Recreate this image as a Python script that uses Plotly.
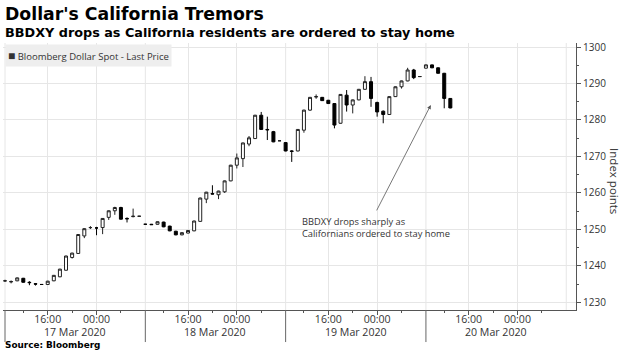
import plotly.graph_objects as go

# ---- data (hourly candles, BBDXY) ----
open_ = [1235.9, 1235.6, 1235.9, 1236.6, 1235.5, 1235.1, 1234.9, 1234.9, 1235.9, 1237.0,
         1238.8, 1242.3, 1243.4, 1248.2, 1250.5, 1250.4, 1250.5, 1253.3, 1255.1, 1256.0,
         1253.0, 1253.5, 1253.6, 1251.4, 1251.4, 1251.4, 1252.0, 1250.9, 1249.5, 1248.5,
         1249.0, 1249.6, 1252.2, 1258.3, 1259.8, 1259.5, 1260.3, 1263.3, 1267.6, 1269.4,
         1273.4, 1274.9, 1281.3, 1277.4, 1276.8, 1274.3, 1273.8, 1271.5, 1271.5, 1277.2,
         1282.7, 1286.3, 1286.2, 1285.4, 1284.5, 1279.1, 1286.8, 1284.1, 1285.5, 1288.4,
         1290.5, 1284.8, 1282.4, 1281.5, 1286.4, 1289.1, 1290.7, 1293.7, 1291.9, 1294.2,
         1295.1, 1294.3, 1292.8, 1285.9]
high = [1236.2, 1236.0, 1236.8, 1236.7, 1235.8, 1235.3, 1235.0, 1235.9, 1237.5, 1239.2,
        1242.8, 1243.6, 1248.7, 1250.3, 1250.9, 1250.7, 1253.1, 1255.2, 1256.2, 1256.2,
        1253.3, 1255.7, 1253.7, 1251.5, 1251.5, 1252.2, 1252.1, 1251.0, 1249.6, 1249.2,
        1249.8, 1252.4, 1258.7, 1260.3, 1262.1, 1260.6, 1263.4, 1267.7, 1270.8, 1273.8,
        1275.6, 1281.4, 1282.2, 1280.9, 1277.0, 1274.4, 1273.9, 1271.7, 1277.5, 1282.8,
        1286.3, 1287.0, 1286.3, 1285.5, 1284.6, 1287.1, 1288.2, 1285.6, 1288.5, 1292.0,
        1291.8, 1285.0, 1282.6, 1286.5, 1289.2, 1290.8, 1294.3, 1294.0, 1292.0, 1295.2,
        1295.2, 1294.4, 1292.9, 1286.0]
low = [1235.6, 1235.2, 1235.8, 1235.4, 1234.7, 1234.6, 1234.8, 1234.8, 1235.8, 1236.9,
       1238.7, 1242.0, 1243.3, 1247.6, 1250.1, 1248.4, 1248.7, 1252.6, 1254.0, 1252.7,
       1251.9, 1253.3, 1253.5, 1251.3, 1251.2, 1251.3, 1250.6, 1249.5, 1248.4, 1248.4,
       1248.9, 1249.5, 1252.1, 1257.2, 1259.6, 1258.3, 1260.0, 1263.2, 1266.7, 1267.1,
       1272.8, 1274.8, 1277.3, 1274.5, 1273.9, 1274.2, 1271.4, 1268.5, 1271.4, 1276.5,
       1282.5, 1285.8, 1285.2, 1284.4, 1277.7, 1279.0, 1282.3, 1281.8, 1285.4, 1288.3,
       1283.6, 1280.9, 1279.1, 1281.4, 1286.3, 1288.6, 1290.6, 1291.2, 1291.8, 1294.1,
       1294.2, 1292.7, 1283.2, 1283.2]
close = [1235.9, 1235.7, 1236.7, 1235.5, 1235.4, 1235.0, 1234.9, 1235.8, 1237.4, 1239.1,
         1242.7, 1243.5, 1248.6, 1250.2, 1250.5, 1250.4, 1253.0, 1255.1, 1256.0, 1252.8,
         1252.9, 1253.6, 1253.6, 1251.4, 1251.3, 1252.1, 1250.7, 1249.6, 1248.5, 1249.1,
         1249.7, 1252.3, 1258.6, 1260.2, 1259.7, 1260.5, 1263.3, 1267.6, 1269.6, 1273.7,
         1275.1, 1281.3, 1277.4, 1277.3, 1274.0, 1274.3, 1271.5, 1271.4, 1277.4, 1282.7,
         1286.2, 1286.4, 1285.3, 1284.5, 1278.6, 1287.0, 1284.1, 1285.5, 1288.4, 1290.5,
         1285.9, 1282.2, 1281.5, 1286.4, 1289.1, 1290.7, 1293.7, 1291.6, 1291.9, 1295.1,
         1294.3, 1292.8, 1285.9, 1283.3]
hours = list(range(len(open_)))          # hourly bar index

bars_per_day = 23
day_starts = [0, 23, 46, 69]
day_labels = ["17 Mar 2020", "18 Mar 2020", "19 Mar 2020", "20 Mar 2020"]
tick_pos = [7, 15, 30, 38, 53, 61, 76, 84]          # 16:00 and 00:00 bars
tick_text = ["16:00", "00:00"] * 4
minor_pos = [3, 11, 19, 26, 34, 42, 49, 57, 65, 72, 80, 88]
y_ticks = [1230, 1240, 1250, 1260, 1270, 1280, 1290, 1300]

TICK_FONT = "Open Sans, Noto Sans, sans-serif"
TITLE_FONT = "DejaVu Sans, Verdana, sans-serif"
GRID = "#e6e6e6"
AXIS = "#555555"

fig = go.Figure()
fig.add_trace(go.Candlestick(
    x=hours, open=open_, high=high, low=low, close=close,
    increasing=dict(line=dict(color="#222222", width=1), fillcolor="#ffffff"),
    decreasing=dict(line=dict(color="#000000", width=1), fillcolor="#000000"),
    whiskerwidth=0, showlegend=False, name="Bloomberg Dollar Spot - Last Price",
))

shapes = []
for d in day_starts + [day_starts[-1] + bars_per_day]:
    shapes.append(dict(type="line", xref="x", yref="paper", x0=d, x1=d, y0=0, y1=1,
                       line=dict(color=GRID, width=1), layer="below"))
for d in day_starts:
    shapes.append(dict(type="line", xref="x", yref="paper", x0=d, x1=d, y0=0, y1=-0.12,
                       line=dict(color="#666666", width=1)))

annotations = [
    dict(text="<b>Dollar's California Tremors</b>", xref="paper", yref="paper", x=0, y=1.1086,
         xanchor="left", yanchor="middle", showarrow=False,
         font=dict(family=TITLE_FONT, size=17.3, color="#000000")),
    dict(text="<b>BBDXY drops as California residents are ordered to stay home</b>",
         xref="paper", yref="paper", x=0, y=1.041, xanchor="left", yanchor="middle",
         showarrow=False, font=dict(family=TITLE_FONT, size=12.8, color="#000000")),
    dict(text="<span style='font-size:12px'>■</span> Bloomberg Dollar Spot - Last Price",
         xref="paper", yref="paper", x=0.003, y=0.995, xanchor="left", yanchor="top",
         showarrow=False, bgcolor="#eeeeee", borderpad=2,
         font=dict(family=TICK_FONT, size=9.5, color="#333333")),
    dict(text="<b>Source: Bloomberg</b>", xref="paper", yref="paper", x=0, y=-0.13,
         xanchor="left", yanchor="middle", showarrow=False,
         font=dict(family=TITLE_FONT, size=8.9, color="#000000")),
    dict(text="Index points", xref="paper", yref="paper", x=1.068, y=0.483,
         xanchor="center", yanchor="middle", textangle=90, showarrow=False,
         font=dict(family=TICK_FONT, size=11.5, color="#333333")),
    dict(text="BBDXY drops sharply as<br>Californians ordered to stay home",
         xref="x", yref="y", x=48.3, y=1250.4, xanchor="left", yanchor="middle",
         align="left", showarrow=False,
         font=dict(family=TICK_FONT, size=9.3, color="#333333")),
    dict(text="", xref="x", yref="y", x=69.8, y=1284.1, axref="x", ayref="y",
         ax=60.8, ay=1254.8, showarrow=True, arrowhead=2, arrowsize=1,
         arrowwidth=0.8, arrowcolor="#555555"),
]
for d, lab in zip(day_starts, day_labels):
    annotations.append(dict(text=lab, xref="x", yref="paper", x=d + bars_per_day / 2,
                            y=-0.081, xanchor="center", yanchor="middle", showarrow=False,
                            font=dict(family=TICK_FONT, size=10.6, color="#333333")))

fig.update_layout(
    width=627, height=355, autosize=False,
    margin=dict(l=3, r=51, t=43, b=45, pad=0),
    paper_bgcolor="#ffffff", plot_bgcolor="#ffffff",
    showlegend=False, boxgap=0.3,
    shapes=shapes, annotations=annotations,
    xaxis=dict(range=[-0.33, 93.6], tickmode="array", tickvals=tick_pos, ticktext=tick_text,
               ticks="outside", ticklen=4, tickcolor=AXIS, showline=True, linecolor=AXIS,
               linewidth=1, showgrid=True, gridcolor=GRID, zeroline=False,
               ticklabelstandoff=-5,
               tickfont=dict(family=TICK_FONT, size=10.6, color="#333333"),
               rangeslider=dict(visible=False),
               minor=dict(tickmode="array", tickvals=minor_pos, ticks="outside",
                          ticklen=2, tickcolor=AXIS, showgrid=False)),
    yaxis=dict(side="right", range=[1227.9, 1301.1], tickmode="array", tickvals=y_ticks,
               ticks="outside", ticklen=4, tickcolor=AXIS, showline=True, linecolor=AXIS,
               linewidth=1, showgrid=True, gridcolor=GRID, zeroline=False,
               tickfont=dict(family=TICK_FONT, size=10, color="#333333"),
               minor=dict(dtick=5, ticks="outside", ticklen=2, tickcolor=AXIS,
                          showgrid=False)),
)

fig.write_html("out.html", config={"displayModeBar": False},
               post_script="document.body.style.margin='0px';document.body.style.overflow='hidden';")
